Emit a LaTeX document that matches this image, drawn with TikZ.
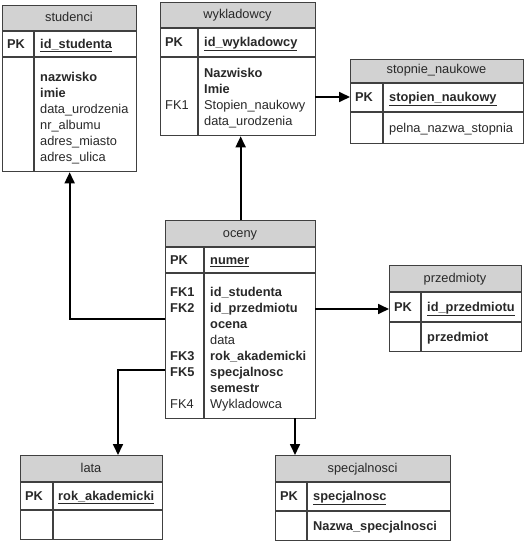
\documentclass[tikz,border=0pt]{standalone}
\usepackage{fontspec}
\setmainfont{Liberation Sans}
\usetikzlibrary{arrows.meta}
\definecolor{hdr}{RGB}{210,210,210}
\definecolor{edge}{RGB}{64,64,64}
\definecolor{txtc}{RGB}{40,40,40}
\tikzset{
  boxline/.style={draw=edge, line width=1.3pt},
  tbl/.style={boxline, rectangle, inner sep=0pt, anchor=north west},
  txt/.style={anchor=base west, inner sep=0pt, text=txtc, font=\fontsize{12.8}{16}\selectfont},
  ttl/.style={anchor=base, inner sep=0pt, text=txtc, font=\fontsize{12.8}{16}\selectfont},
  conn/.style={draw=black, line width=1.7pt, -{Triangle[length=11pt,width=10pt]}}
}
% table: name, x1, y1, x2, y2, header bottom, pk bottom, divider x, title
\newcommand\ertable[9]{%
  \fill[hdr] (#2,#3) rectangle (#4,#6);
  \node[tbl, minimum width=#4pt-#2pt, minimum height=#5pt-#3pt] (#1) at (#2,#3) {};
  \draw[boxline] (#2,#6) -- (#4,#6);
  \draw[boxline] (#2,#7) -- (#4,#7);
  \draw[boxline] (#8,#6) -- (#8,#5);
  \node[ttl] (#1-title) at ({(#2+#4)/2},#6-9.5) {#9};
}
\newcommand\fields[4]{%
  \foreach \t [count=\i from 0] in {#4} \node[txt] (#1-\i) at (#2,#3+16*\i) {\t};
}
\begin{document}
\begin{tikzpicture}[x=1pt,y=-1pt]
\useasboundingbox (0,0) rectangle (525,543);
% studenci
\ertable{stud}{2}{5}{136}{171}{31}{57}{34}{studenci}
\node[txt] (stud-pk) at (7,48.5) {\textbf{PK}};
\node[txt] (stud-id) at (40,48.5) {\textbf{\underline{id\_studenta}}};
\fields{stud-f}{40}{81.5}{\textbf{nazwisko},\textbf{imie},data\_urodzenia,nr\_albumu,adres\_miasto,adres\_ulica}
% wykladowcy
\ertable{wyk}{160}{2}{315}{135}{28}{57}{198}{wykladowcy}
\node[txt] (wyk-pk) at (165,46.5) {\textbf{PK}};
\node[txt] (wyk-id) at (204,46.5) {\textbf{\underline{id\_wykladowcy}}};
\fields{wyk-f}{204}{77.5}{\textbf{Nazwisko},\textbf{Imie},Stopien\_naukowy,data\_urodzenia}
\node[txt] (wyk-fk1) at (165,109.5) {FK1};
% stopnie_naukowe
\ertable{stn}{350}{59}{523}{143}{83}{112}{383}{stopnie\_naukowe}
\node[txt] (stn-pk) at (355,101.5) {\textbf{PK}};
\node[txt] (stn-id) at (389,101.5) {\textbf{\underline{stopien\_naukowy}}};
\node[txt] (stn-f) at (389,132.5) {pelna\_nazwa\_stopnia};
% oceny
\ertable{oc}{165}{220}{315}{418}{247}{273}{204}{oceny}
\node[txt] (oc-pk) at (170,264.5) {\textbf{PK}};
\node[txt] (oc-id) at (210,264.5) {\textbf{\underline{numer}}};
\fields{oc-f}{210}{296.5}{\textbf{id\_studenta},\textbf{id\_przedmiotu},\textbf{ocena},data,\textbf{rok\_akademicki},\textbf{specjalnosc},\textbf{semestr},Wykladowca}
\node[txt] (oc-fk1) at (170,296.5) {\textbf{FK1}};
\node[txt] (oc-fk2) at (170,312.5) {\textbf{FK2}};
\node[txt] (oc-fk3) at (170,360.5) {\textbf{FK3}};
\node[txt] (oc-fk5) at (170,376.5) {\textbf{FK5}};
\node[txt] (oc-fk4) at (170,408.5) {FK4};
% przedmioty
\ertable{prz}{389}{265}{521}{351}{292}{322}{421}{przedmioty}
\node[txt] (prz-pk) at (394,311.5) {\textbf{PK}};
\node[txt] (prz-id) at (427,311.5) {\textbf{\underline{id\_przedmiotu}}};
\node[txt] (prz-f) at (427,341.5) {\textbf{przedmiot}};
% lata
\ertable{lata}{20}{455}{162}{539}{482}{510}{53}{lata}
\node[txt] (lata-pk) at (25,500.5) {\textbf{PK}};
\node[txt] (lata-id) at (58,500.5) {\textbf{\underline{rok\_akademicki}}};
% specjalnosci
\ertable{sp}{275}{455}{450}{540}{482}{511}{307}{specjalnosci}
\node[txt] (sp-pk) at (280,500.5) {\textbf{PK}};
\node[txt] (sp-id) at (313,500.5) {\textbf{\underline{specjalnosc}}};
\node[txt] (sp-f) at (313,530.5) {\textbf{Nazwa\_specjalnosci}};
% connectors
\coordinate (c-ocw1) at (165,319);
\coordinate (c-ocw2) at (165,370);
\coordinate (c-ocs) at (295,418);
\coordinate (c-wyke) at (315,97);
\coordinate (c-oce) at (315,309);
\draw[conn] (oc.north) -- (oc.north |- wyk.south);
\draw[conn] (c-wyke) -- (c-wyke -| stn.west);
\draw[conn] (c-ocw1) -| (stud.south);
\draw[conn] (c-oce) -- (c-oce -| prz.west);
\draw[conn] (c-ocw2) -| (118,0 |- lata.north);
\draw[conn] (c-ocs) -- (c-ocs |- sp.north);
\end{tikzpicture}
\end{document}
